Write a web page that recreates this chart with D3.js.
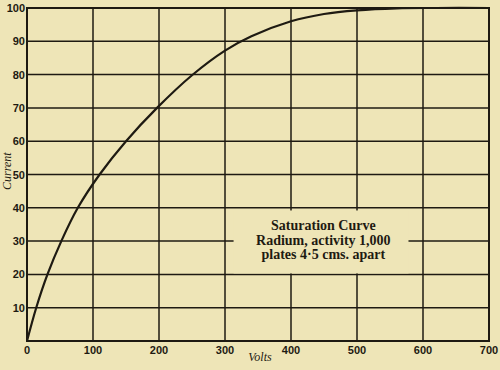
<!DOCTYPE html>
<html>
<head>
<meta charset="utf-8">
<script src="https://cdn.jsdelivr.net/npm/d3@7"></script>
<style>
  body { margin: 0; background: #eee5b7; }
  svg { display: block; }
</style>
</head>
<body>
<div id="chart"></div>
<script>
// values
let volts   = [0, 14, 31, 52, 77, 110, 150, 197, 250, 300, 340, 400, 450, 500, 560, 620, 700];
let current = [0, 10, 20, 30, 40, 50, 60, 70, 79.8, 87.2, 91.5, 96, 98.2, 99.3, 99.9, 100, 100];
let xTicks = [0, 100, 200, 300, 400, 500, 600, 700];
let yTicks = [10, 20, 30, 40, 50, 60, 70, 80, 90, 100];
let noteLines = ["Saturation Curve", "Radium, activity 1,000", "plates 4\u00b75 cms. apart"];

let width = 500, height = 370;
let margin = {top: 8, right: 11, bottom: 29, left: 27};

let svg = d3.select("#chart").append("svg")
    .attr("width", width)
    .attr("height", height);

svg.append("rect")
    .attr("width", width).attr("height", height)
    .attr("fill", "#eee5b7");

let x = d3.scaleLinear().domain([0, 700]).range([margin.left, width - margin.right]);
let y = d3.scaleLinear().domain([0, 100]).range([height - margin.bottom, margin.top]);

let ink = "#1e1a12";
let paper = "#eee5b7";

// grid
svg.append("g").selectAll("line").data(xTicks.slice(1, -1)).join("line")
    .attr("x1", d => x(d)).attr("x2", d => x(d))
    .attr("y1", y(0)).attr("y2", y(100))
    .attr("stroke", ink).attr("stroke-width", 1.5);

svg.append("g").selectAll("line").data(yTicks.slice(0, -1)).join("line")
    .attr("x1", x(0)).attr("x2", x(700))
    .attr("y1", d => y(d)).attr("y2", d => y(d))
    .attr("stroke", ink).attr("stroke-width", 1.5);

// blank patch behind the note
svg.append("rect")
    .attr("x", x(313)).attr("y", y(39.2))
    .attr("width", x(578) - x(313)).attr("height", y(20.3) - y(39.2))
    .attr("fill", paper);

// frame
svg.append("rect")
    .attr("x", x(0)).attr("y", y(100))
    .attr("width", x(700) - x(0)).attr("height", y(0) - y(100))
    .attr("fill", "none").attr("stroke", ink).attr("stroke-width", 2);

// tick labels
svg.append("g").selectAll("text").data(xTicks).join("text")
    .attr("x", d => x(d)).attr("y", y(0) + 13)
    .attr("text-anchor", "middle")
    .attr("font-family", "Liberation Sans, Arial, sans-serif")
    .attr("font-weight", "bold").attr("font-size", 11)
    .attr("fill", ink)
    .text(d => d);

svg.append("g").selectAll("text").data(yTicks).join("text")
    .attr("x", x(0) - 2).attr("y", d => y(d) + 4)
    .attr("text-anchor", "end")
    .attr("font-family", "Liberation Sans, Arial, sans-serif")
    .attr("font-weight", "bold").attr("font-size", 11)
    .attr("fill", ink)
    .text(d => d);

// axis titles
svg.append("text")
    .attr("transform", "translate(11," + y(51) + ") rotate(-90)")
    .attr("text-anchor", "middle")
    .attr("font-family", "Liberation Serif, serif")
    .attr("font-style", "italic").attr("font-size", 12)
    .attr("fill", ink)
    .text("Current");

svg.append("text")
    .attr("x", x(353)).attr("y", height - 9)
    .attr("text-anchor", "middle")
    .attr("font-family", "Liberation Serif, serif")
    .attr("font-style", "italic").attr("font-size", 12)
    .attr("fill", ink)
    .text("Volts");

// curve
let pts = volts.map((v, i) => [v, current[i]]);
let line = d3.line()
    .x(d => x(d[0]))
    .y(d => y(d[1]))
    .curve(d3.curveCatmullRom.alpha(0.5));

svg.append("path")
    .datum(pts)
    .attr("d", line)
    .attr("fill", "none")
    .attr("stroke", ink)
    .attr("stroke-width", 2.2);

// note
svg.append("g").selectAll("text").data(noteLines).join("text")
    .attr("x", x(449)).attr("y", (d, i) => 230 + i * 14.5)
    .attr("text-anchor", "middle")
    .attr("font-family", "Liberation Serif, serif")
    .attr("font-weight", "bold").attr("font-size", 14)
    .attr("fill", ink)
    .text(d => d);
</script>
</body>
</html>
